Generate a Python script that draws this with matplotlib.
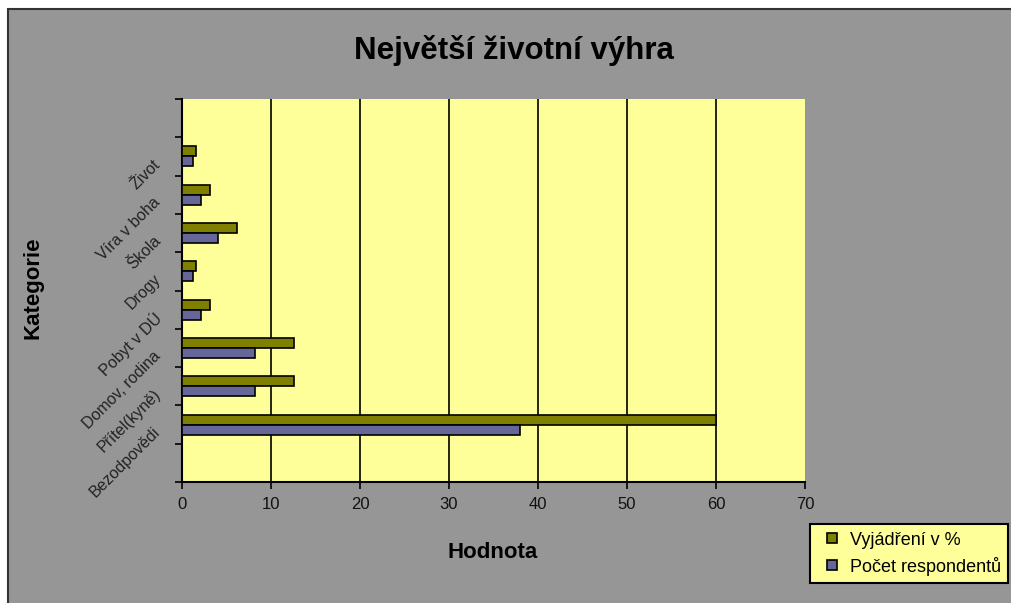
import matplotlib
matplotlib.use("Agg")
import matplotlib.pyplot as plt
import numpy as np
from matplotlib.patches import Rectangle
from matplotlib.lines import Line2D
from matplotlib.transforms import ScaledTranslation

plt.rcParams["font.family"] = ["Liberation Sans", "DejaVu Sans"]

# kategorie odspodu nahoru
kategorie = ["Bezodpovědi", "Přítel(kyně)", "Domov, rodina", "Pobyt v DÚ",
             "Drogy", "Škola", "Víra v boha", "Život"]
procenta = [60.0, 12.6, 12.6, 3.1, 1.6, 6.2, 3.1, 1.6]
pocty = [38.0, 8.2, 8.2, 2.1, 1.2, 4.1, 2.1, 1.2]
x_ticks = [0, 10, 20, 30, 40, 50, 60, 70]

OLIVE = "#808000"
MODRA = "#666699"
ZLUTA = "#FFFF99"
SEDA = "#969696"

W, H = 1011, 603
fig = plt.figure(figsize=(W / 100, H / 100), dpi=100, facecolor="white")
fig.patches.append(Rectangle((8 / W, -0.01), 1.02, 1 - 9 / H + 0.01, transform=fig.transFigure,
                             facecolor=SEDA, edgecolor="#333333", linewidth=1.5, zorder=-10))

ax = fig.add_axes([182 / W, 1 - 482 / H, (805 - 182) / W, (482 - 99) / H])
ax.set_facecolor(ZLUTA)

pos = np.arange(1, len(kategorie) + 1)
h = 0.26
ax.barh(pos + h / 2, procenta, height=h, color=OLIVE, edgecolor="black", linewidth=1.2, zorder=3)
ax.barh(pos - h / 2, pocty, height=h, color=MODRA, edgecolor="black", linewidth=1.2, zorder=3)

ax.set_xlim(0, 70)
ax.set_ylim(-0.5, len(kategorie) + 1.5)
ax.set_xticks(x_ticks)
ax.set_xticklabels([str(t) for t in x_ticks], fontsize=12, color="#111111")
for t in x_ticks[1:-1]:
    ax.axvline(t, color="black", linewidth=1.2, zorder=1)

ax.set_yticks(pos)
ax.set_yticklabels(kategorie, rotation=45, ha="right", va="top",
                   rotation_mode="anchor", fontsize=11.5, color="#222222")
posun = ScaledTranslation(0, -10 / 72, fig.dpi_scale_trans)
for lab in ax.get_yticklabels():
    lab.set_transform(lab.get_transform() + posun)
ax.tick_params(axis="y", which="major", length=0, pad=21)
ax.set_yticks(np.arange(-0.5, len(kategorie) + 2), minor=True)
ax.tick_params(axis="y", which="minor", length=5, width=1.2, direction="out")
ax.tick_params(axis="x", length=5, width=1.2, direction="out", pad=6)

for s in ["top", "right"]:
    ax.spines[s].set_visible(False)
for s in ["left", "bottom"]:
    ax.spines[s].set_linewidth(1.5)

fig.text(514 / W, 1 - 50 / H, "Největší životní výhra", ha="center", va="center",
         fontsize=22.5, fontweight="bold")
fig.text(493 / W, 1 - 552 / H, "Hodnota", ha="center", va="center",
         fontsize=16, fontweight="bold")
fig.text(33 / W, 1 - 288 / H, "Kategorie", ha="center", va="center", rotation=90,
         fontsize=16, fontweight="bold")

znacky = [Line2D([], [], marker="s", linestyle="", markersize=7.5, markerfacecolor=c,
                 markeredgecolor="black", markeredgewidth=1.2) for c in (OLIVE, MODRA)]
leg = fig.legend(znacky, ["Vyjádření v %", "Počet respondentů"],
                 loc="lower right", bbox_to_anchor=(1008 / W, 1 - 583 / H),
                 frameon=True, fancybox=False, fontsize=13, handlelength=1.6,
                 handletextpad=0.2, borderpad=0.4, labelspacing=0.45,
                 borderaxespad=0)
leg.get_frame().set_facecolor(ZLUTA)
leg.get_frame().set_edgecolor("black")
leg.get_frame().set_linewidth(1.5)
leg.get_frame().set_alpha(1)

fig.savefig("out.png", dpi=100, facecolor="white")
